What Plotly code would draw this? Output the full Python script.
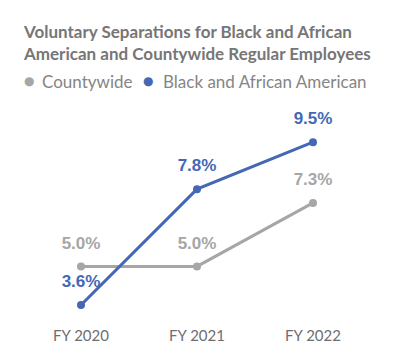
import plotly.graph_objects as go

categories = ["FY 2020", "FY 2021", "FY 2022"]
countywide = [5.0, 5.0, 7.3]
black_aa = [3.6, 7.8, 9.5]

GRAY = "#a6a6a6"
BLUE = "#4468b4"
L = 15  # left margin in figure px

fig = go.Figure()
xs = list(range(len(categories)))

for vals, color in [(countywide, GRAY), (black_aa, BLUE)]:
    fig.add_trace(go.Scatter(
        x=xs, y=vals, mode="lines+markers",
        line=dict(color=color, width=3), marker=dict(size=8, color=color),
        showlegend=False, cliponaxis=False, hoverinfo="skip",
    ))
    fig.add_trace(go.Scatter(
        x=xs, y=vals, mode="markers+text",
        marker=dict(size=20, color="rgba(0,0,0,0)"),
        text=[f"<b>{v:.1f}%</b>" for v in vals],
        textposition="top center",
        textfont=dict(family="Liberation Sans, Arial", size=17, color=color),
        showlegend=False, cliponaxis=False,
    ))

fig.add_annotation(
    xref="paper", yref="paper", x=0.0, y=1.0, yshift=81, xshift=-2,
    xanchor="left", yanchor="top",
    text="<b>Voluntary Separations for Black and African<br>American and Countywide Regular Employees</b>",
    showarrow=False, align="left",
    font=dict(family="Lato, Open Sans", size=17, color="#767676"),
)

def legend_item(fig_x_dot, fig_x_text, color, label):
    fig.add_annotation(
        xref="paper", yref="paper", x=0.0, y=1.0, yshift=19,
        xshift=fig_x_dot - L, xanchor="center", yanchor="middle",
        text="●", showarrow=False,
        font=dict(family="DejaVu Sans", size=12, color=color),
    )
    fig.add_annotation(
        xref="paper", yref="paper", x=0.0, y=1.0, yshift=19,
        xshift=fig_x_text - L - 2, xanchor="left", yanchor="middle",
        text=label, showarrow=False,
        font=dict(family="Lato, Open Sans", size=17, color="#858585"),
    )

legend_item(21, 34, GRAY, "Countywide")
legend_item(140, 155, BLUE, "Black and African American")

fig.update_layout(
    width=400, height=358,
    margin=dict(l=L, r=37, t=92, b=48),
    paper_bgcolor="white", plot_bgcolor="white",
    xaxis=dict(range=[-0.5, 2.5], tickmode="array", tickvals=xs, ticktext=categories,
               showgrid=False, zeroline=False, showline=False,
               ticks="outside", ticklen=4, tickcolor="rgba(0,0,0,0)",
               tickfont=dict(family="Lato, Open Sans", size=15, color="#6e6e6e")),
    yaxis=dict(range=[3.13, 11.03], visible=False),
)

fig.write_html("out.html")
